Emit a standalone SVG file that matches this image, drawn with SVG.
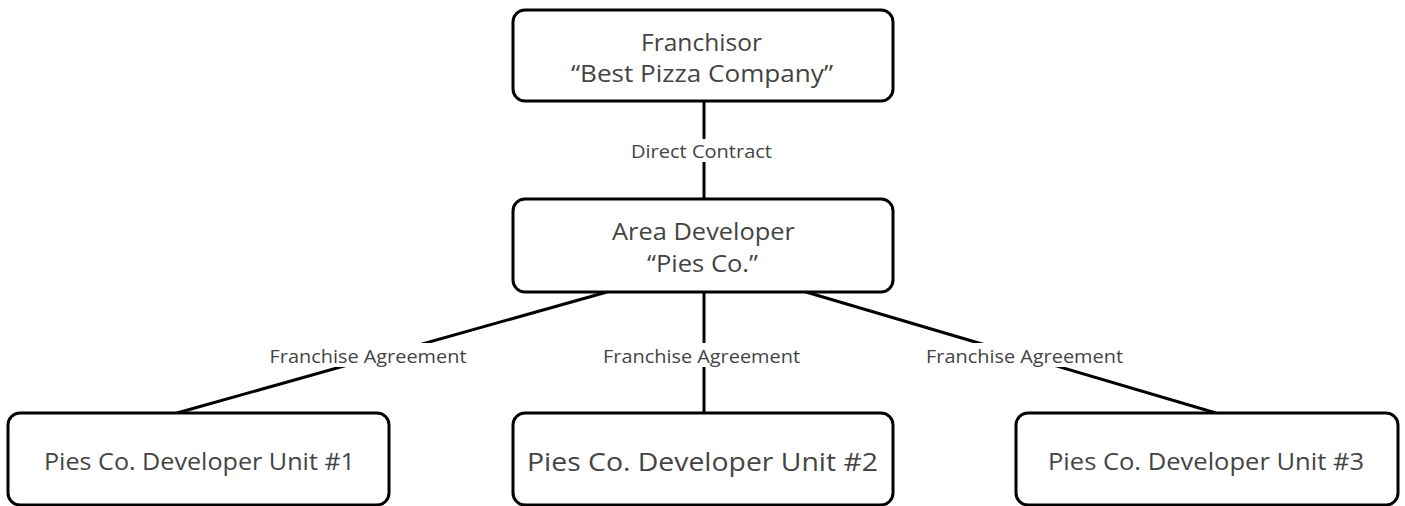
<svg xmlns="http://www.w3.org/2000/svg" width="1405" height="506" viewBox="0 0 1405 506">
<style>
.box{fill:#fff;stroke:#000;stroke-width:3}
.t{font-family:"Open Sans","DejaVu Sans",sans-serif;fill:#444;text-anchor:middle}
.n{font-size:24.5px}
.u{font-size:23px}
.big{font-size:26px}
.lbl{font-size:17.5px}
.ln{stroke:#000;stroke-width:3;fill:none}
.lb{fill:#fff}
</style>
<rect width="1405" height="506" fill="#fff"/>
<g id="connectors">
<line class="ln" x1="704" y1="101" x2="704" y2="199"/>
<line class="ln" x1="607" y1="292" x2="177" y2="413"/>
<line class="ln" x1="704" y1="292" x2="704" y2="413"/>
<line class="ln" x1="806" y1="292" x2="1216" y2="413"/>
<g id="label-direct"><rect class="lb" x="627" y="139" width="150" height="23"/><text class="t lbl" x="701.5" y="158" textLength="141" lengthAdjust="spacingAndGlyphs">Direct Contract</text></g>
<g id="label-fa1"><rect class="lb" x="266" y="343" width="204" height="24"/><text class="t lbl" x="368" y="363" textLength="197" lengthAdjust="spacingAndGlyphs">Franchise Agreement</text></g>
<g id="label-fa2"><rect class="lb" x="600" y="343" width="204" height="24"/><text class="t lbl" x="701.5" y="363" textLength="197" lengthAdjust="spacingAndGlyphs">Franchise Agreement</text></g>
<g id="label-fa3"><rect class="lb" x="922" y="343" width="204" height="24"/><text class="t lbl" x="1024.5" y="363" textLength="197" lengthAdjust="spacingAndGlyphs">Franchise Agreement</text></g>
</g>
<g id="franchisor"><rect class="box" x="513" y="10" width="380" height="91" rx="12"/><text class="t n" x="701.5" y="51" textLength="121" lengthAdjust="spacingAndGlyphs">Franchisor</text><text class="t n" x="702" y="82" textLength="262" lengthAdjust="spacingAndGlyphs">“Best Pizza Company”</text></g>
<g id="area-developer"><rect class="box" x="513" y="199" width="380" height="93" rx="12"/><text class="t n" x="703.5" y="240" textLength="183" lengthAdjust="spacingAndGlyphs">Area Developer</text><text class="t n" x="702.5" y="272" textLength="111" lengthAdjust="spacingAndGlyphs">“Pies Co.”</text></g>
<g id="unit1"><rect class="box" x="8" y="413" width="381" height="92" rx="12"/><text class="t u" x="199.5" y="470" textLength="311" lengthAdjust="spacingAndGlyphs">Pies Co. Developer Unit #1</text></g>
<g id="unit2"><rect class="box" x="513" y="413" width="380" height="92" rx="12"/><text class="t big" x="702.5" y="471" textLength="351" lengthAdjust="spacingAndGlyphs">Pies Co. Developer Unit #2</text></g>
<g id="unit3"><rect class="box" x="1016" y="413" width="382" height="92" rx="12"/><text class="t u" x="1206" y="470" textLength="316" lengthAdjust="spacingAndGlyphs">Pies Co. Developer Unit #3</text></g>
</svg>
